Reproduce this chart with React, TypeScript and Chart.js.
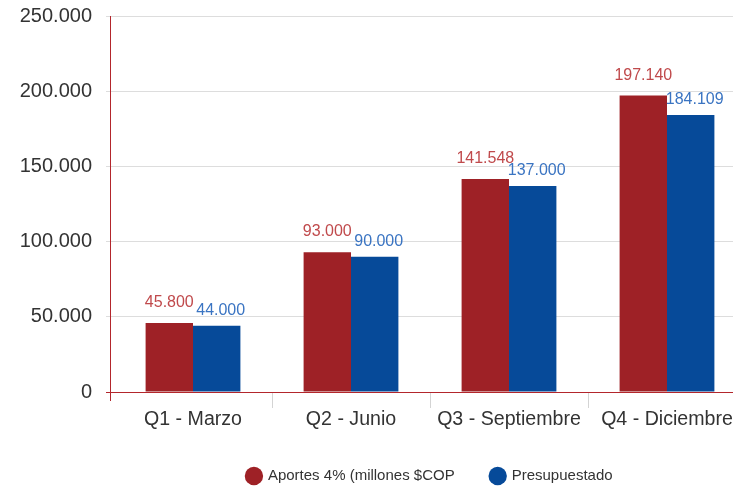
import React, { useEffect, useRef } from "react";
import { Chart, registerables } from "chart.js";

Chart.register(...registerables);

const categories = ["Q1 - Marzo", "Q2 - Junio", "Q3 - Septiembre", "Q4 - Diciembre"];
const aportes = [45800, 93000, 141548, 197140];
const presupuestado = [44000, 90000, 137000, 184109];
const seriesNames = ["Aportes 4% (millones $COP", "Presupuestado"];
const yTicks = [0, 50000, 100000, 150000, 200000, 250000];

const FONT = "'Liberation Sans', Arial, Helvetica, sans-serif";
const RED = "#9e2126";
const BLUE = "#064a99";
const RED_LABEL = "#c04a4c";
const BLUE_LABEL = "#3a74c2";
const AXIS_RED = "#b3262c";

function fmt(n: number): string {
  return String(n).replace(/\B(?=(\d{3})+(?!\d))/g, ".");
}

const valueLabels = {
  id: "valueLabels",
  afterDatasetsDraw(chart: any) {
    const ctx = chart.ctx;
    ctx.save();
    ctx.font = `16px ${FONT}`;
    ctx.textAlign = "center";
    ctx.textBaseline = "alphabetic";
    chart.data.datasets.forEach((ds: any, di: number) => {
      const meta = chart.getDatasetMeta(di);
      ctx.fillStyle = di === 0 ? RED_LABEL : BLUE_LABEL;
      const dy = di === 0 ? 16 : 11;
      const dx = di === 0 ? 0 : 4;
      meta.data.forEach((el: any, i: number) => {
        ctx.fillText(fmt(ds.data[i]), el.x + dx, el.y - dy);
      });
    });
    ctx.restore();
  },
};

const redAxes = {
  id: "redAxes",
  afterDraw(chart: any) {
    const { ctx, chartArea } = chart;
    ctx.save();
    ctx.strokeStyle = AXIS_RED;
    ctx.lineWidth = 1;
    ctx.beginPath();
    ctx.moveTo(chartArea.left - 8, Math.round(chartArea.bottom) + 0.5);
    ctx.lineTo(chartArea.right, Math.round(chartArea.bottom) + 0.5);
    ctx.moveTo(Math.round(chartArea.left) - 4 + 0.5, chartArea.top);
    ctx.lineTo(Math.round(chartArea.left) - 4 + 0.5, chartArea.bottom + 9);
    ctx.stroke();
    ctx.restore();
  },
};

export default function App() {
  const ref = useRef<HTMLCanvasElement | null>(null);
  useEffect(() => {
    if (!ref.current) return;
    Chart.defaults.font.family = FONT;
    const chart = new Chart(ref.current, {
      type: "bar",
      data: {
        labels: categories,
        datasets: [
          { label: seriesNames[0], data: aportes, backgroundColor: RED, borderWidth: 0, categoryPercentage: 0.6, barPercentage: 1 },
          { label: seriesNames[1], data: presupuestado, backgroundColor: BLUE, borderWidth: 0, categoryPercentage: 0.6, barPercentage: 1 },
        ],
      },
      options: {
        animation: false,
        responsive: false,
        layout: { padding: { top: 16, bottom: -5.5, left: 0, right: 0 } },
        plugins: {
          tooltip: { enabled: false },
          legend: {
            position: "bottom",
            fullSize: false,
            labels: {
              usePointStyle: true,
              pointStyle: "circle",
              boxWidth: 13,
              boxHeight: 13,
              padding: 36.5,
              color: "#333333",
              font: { size: 15, family: FONT },
            },
          },
        },
        scales: {
          x: {
            afterFit: (s: any) => { s.height = 40; },
            border: { display: false },
            grid: {
              offset: true,
              drawOnChartArea: false,
              tickLength: 16,
              color: (c: any) => (c.index === 0 ? "rgba(0,0,0,0)" : "#d4d4d4"),
            },
            ticks: { color: "#333333", font: { size: 19.6, family: FONT }, padding: 0, maxRotation: 0 },
          },
          y: {
            min: 0,
            max: 250000,
            afterFit: (s: any) => { s.width = 114; s.paddingTop = 10; s.paddingBottom = 10; },
            afterBuildTicks: (s: any) => { s.ticks = yTicks.map((v) => ({ value: v })); },
            border: { display: false },
            grid: { color: "#dddddd", tickLength: 8 },
            ticks: {
              color: "#333333",
              font: { size: 20, family: FONT },
              padding: 14,
              callback: (v: any) => fmt(Number(v)),
            },
          },
        },
      },
      plugins: [valueLabels, redAxes],
    });
    return () => chart.destroy();
  }, []);
  return (
    <div style={{ position: "fixed", left: 0, top: 0, width: 733, height: 488, overflow: "hidden", background: "#fff" }}>
      <canvas ref={ref} width={746} height={488} style={{ display: "block" }} />
    </div>
  );
}
